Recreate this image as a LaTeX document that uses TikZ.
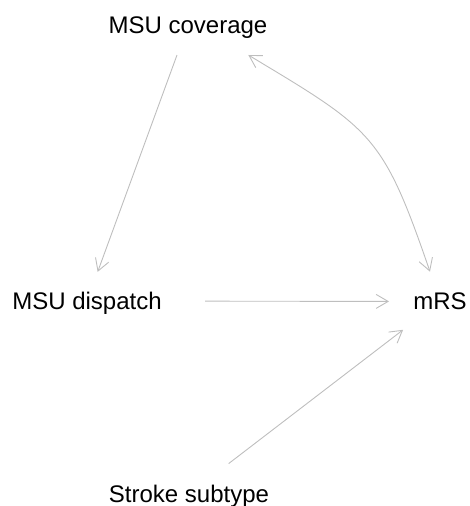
\documentclass[tikz,border=0pt]{standalone}
\usepackage{fontspec}
\setmainfont{Liberation Sans}
\usetikzlibrary{arrows.meta,calc}
\definecolor{edgegray}{RGB}{190,190,190}
\tikzset{
  lbl/.style={inner sep=0pt, text height=17pt, text depth=0pt, font=\fontsize{24}{28}\selectfont, text=black},
  conn/.style={draw=edgegray, line width=0.9pt, -{Straight Barb[length=12pt,width=14pt]}}
}
\begin{document}
\begin{tikzpicture}[x=1pt,y=1pt]
\useasboundingbox (0,0) rectangle (469,506);
\node[lbl] (cov) at (188,481) {MSU coverage};
\node[lbl] (disp) at (87,205) {MSU dispatch};
\node[lbl] (mrs) at (440,204.5) {mRS};
\node[lbl] (stroke) at (189,12) {Stroke subtype};
\draw[conn, shorten <=32pt, shorten >=31pt] (cov.center) -- (disp.center);
\draw[conn, shorten <=118pt, shorten >=51pt] (disp.center) -- (mrs.center);
\draw[conn, shorten <=50pt, shorten >=46.5pt] (stroke.center) -- (mrs.center);
\draw[conn, {Straight Barb[length=12pt,width=14pt]}-{Straight Barb[length=12pt,width=14pt]}]
  ($(cov.center)+(60.3,-30)$) .. controls ($(cov.center)+(184.6,-104.7)$) and ($(mrs.center)+(-57.3,167.2)$) .. ($(mrs.center)+(-10,29.8)$);
\end{tikzpicture}
\end{document}
